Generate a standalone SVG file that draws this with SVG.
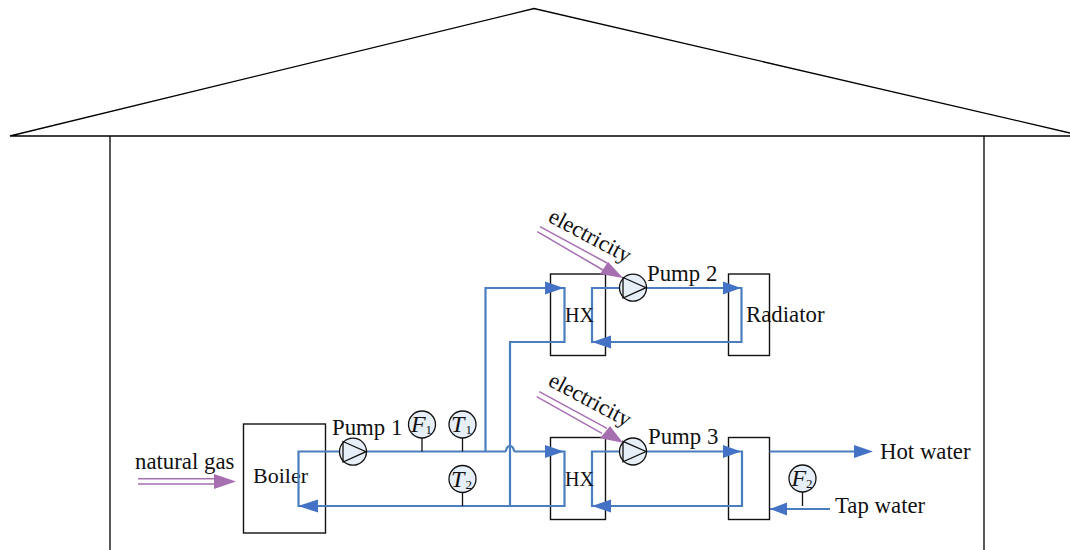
<svg xmlns="http://www.w3.org/2000/svg" width="1070" height="550" viewBox="0 0 1070 550">
<style>
text{font-family:"Liberation Serif","DejaVu Serif",serif;font-size:22.800px;fill:#111}
.k{fill:none;stroke:#000;stroke-width:1.3}
.b{fill:#fff;stroke:#111;stroke-width:1.4}
.p{fill:none;stroke:#4a7ebf;stroke-width:2.2}
.a{fill:#4472c4}
.g{fill:none;stroke:#a870b4;stroke-width:1.5}
.h{fill:#a66fb0}
.c{fill:#e6eef7;stroke:#111;stroke-width:1.3}
.s{stroke:#111;stroke-width:1.3;fill:none}
text.i{font-style:italic;font-size:24px}
text.u{font-size:13px}
text.e{font-size:22.500px}
text.x{font-size:20px}
text.o{font-size:22px}
</style>
<g id="house">
<path class="k" d="M10 136 L534 8.500 L1070 133 M10 136 H1070 M110 136 V550 M984 136 V550"/>
</g>
<g id="boiler"><rect class="b" x="243.500" y="424" width="82" height="109"/><text class="o" x="253" y="483">Boiler</text></g>
<g id="hx1"><rect class="b" x="550.500" y="274" width="55" height="81.500"/></g>
<g id="radiator"><rect class="b" x="728.500" y="274" width="41" height="81.500"/></g>
<g id="hx2"><rect class="b" x="550.500" y="437.500" width="55" height="82"/></g>
<g id="tank"><rect class="b" x="728.500" y="437.500" width="41" height="82"/></g>
<g id="connectors">
<path class="p" d="M340 451.500 H298.500 V506 H564.500 V451.500 H515.500 Q514 451.500 513.500 449 Q512.500 446 509.800 446 Q507.500 446 506.500 449 Q506 451.500 504.500 451.500 H365 M485.500 451.500 V288 H564.500 V342 H510 V506"/>
<path class="p" d="M620 288 H592 V342 H741.500 V288 H645"/>
<path class="p" d="M620 451.500 H592 V506 H742 V451.500 H645"/>
<path class="p" d="M769.500 451.500 H855 M770 509 H830"/>
<path class="s" d="M422 438 V451.500 M462.500 438 V451.500 M462.500 492 V506 M802.500 492 V506"/>
<path class="a" d="M298 506 L318 499.500 V512.500Z M545 281.500 L564 288 L545 294.500Z M723 281.500 L741 288 L723 294.500Z M592 342 L611 335.500 V348.500Z M545 445 L564 451.500 L545 458Z M723 445 L741 451.500 L723 458Z M592 506 L611 499.500 V512.500Z M854 445 L873 451.500 L854 458Z M770 509 L787 502.500 V515.500Z"/>
<path class="g" d="M138 478.800 H216 M138 484 H216 M540 226.700 L607 263 M537.300 231.700 L603 270 M539.300 391.700 L607 428.300 M536.700 396.700 L602 433.300"/>
<path class="h" d="M214 474 L236 481.500 L214 489Z M608 261.700 L623 278 L600 274Z M610 426 L623 442.700 L600 438.300Z"/>
</g>
<g id="pump1"><circle class="c" cx="353" cy="451.700" r="13.500"/><path class="s" d="M343 441.500 L366 451.700 L343 462Z"/></g>
<g id="pump2"><circle class="c" cx="633" cy="287.700" r="13.500"/><path class="s" d="M623 277.500 L646 287.700 L623 298Z"/></g>
<g id="pump3"><circle class="c" cx="633" cy="451.500" r="13.500"/><path class="s" d="M623 441.300 L646 451.500 L623 461.800Z"/></g>
<g id="f1"><circle class="c" cx="422" cy="424.500" r="13.500"/><text class="i" x="411" y="432">F</text><text class="u" x="425.500" y="434">1</text></g>
<g id="t1"><circle class="c" cx="462.500" cy="424.500" r="13.500"/><text class="i" x="451" y="432">T</text><text class="u" x="465.500" y="434">1</text></g>
<g id="t2"><circle class="c" cx="462.500" cy="479" r="13.500"/><text class="i" x="451" y="487">T</text><text class="u" x="465.500" y="489">2</text></g>
<g id="f2"><circle class="c" cx="802.500" cy="478.500" r="13.500"/><text class="i" x="791.500" y="486">F</text><text class="u" x="806" y="488">2</text></g>
<g id="labels">
<text x="135" y="469">natural gas</text>
<text x="332" y="435">Pump 1</text>
<text x="647" y="281">Pump 2</text>
<text x="648" y="444">Pump 3</text>
<text class="x" x="565" y="322">HX</text>
<text class="x" x="565" y="486">HX</text>
<text x="746" y="322">Radiator</text>
<text x="880" y="459">Hot water</text>
<text x="835" y="513">Tap water</text>
<text class="e" transform="translate(547 221) rotate(28)">electricity</text>
<text class="e" transform="translate(547 385) rotate(28)">electricity</text>
</g>
</svg>
